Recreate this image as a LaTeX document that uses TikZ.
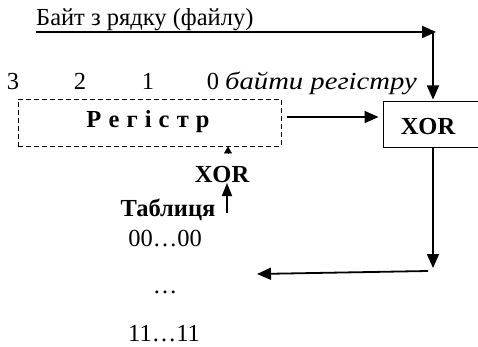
\documentclass[tikz,border=0pt]{standalone}
\usepackage{fontspec}
\setmainfont{Liberation Serif}
\usetikzlibrary{arrows.meta}

\tikzset{
  txt/.style={inner sep=0pt, font=\fontsize{24.5}{28}\selectfont},
  boldtxt/.style={inner sep=0pt, font=\fontsize{24.5}{28}\selectfont\bfseries},
  flow/.style={line width=1.8pt, -{Triangle[length=14pt,width=12pt]}},
  regbox/.style={draw, dashed, dash pattern=on 5pt off 3pt, line width=0.9pt,
    minimum width=263pt, minimum height=47pt, inner sep=0pt},
  xorbox/.style={draw, line width=1pt, inner sep=0pt, minimum width=97pt,
    minimum height=46pt}
}
\newcommand{\gapsp}{\hspace{1pt} }

\begin{document}
\begin{tikzpicture}[x=1pt, y=-1pt]
  \useasboundingbox (0,0) rectangle (478,347);
  \clip (0,0) rectangle (478,347);

  % input byte, underlined, running to the right
  \node[txt, anchor=base west] (title) at (36,26) {Байт з рядку (файлу)};
  \coordinate (ustart) at (36,32);
  \coordinate (uend) at (436,32);
  \coordinate (drop) at (433,33);

  % byte numbers of the register
  \node[txt, anchor=base] (b3) at (13,90) {3};
  \node[txt, anchor=base] (b2) at (80,90) {2};
  \node[txt, anchor=base] (b1) at (148,90) {1};
  \node[txt, anchor=base] (b0) at (213,90) {0};
  \node[txt, anchor=base west] (blabel) at (225,90)
    {\scalebox{1.17}[1]{\itshape байти регістру}};

  % register
  \node[regbox] (reg) at (149.5,122.5) {};
  \node[boldtxt] (regtxt) at (148,122)
    {Р\gapsp е\gapsp г\gapsp і\gapsp с\gapsp т\gapsp р};

  % XOR block
  \node[xorbox] (xor) at (431.5,125) {};
  \node[boldtxt] (xortxt) at (428,127) {XOR};

  % table lookup
  \node[boldtxt] (xor2) at (222,175) {XOR};
  \node[boldtxt] (tab) at (168,210) {Таблиця};
  \node[txt] (t0) at (165,239) {00…00};
  \node[txt] (tdots) at (165,292) {…};
  \node[txt, anchor=base] (t1) at (164,341) {11…11};

  \coordinate (lvl) at (0,117);
  \coordinate (upfrom) at (227,213);
  \coordinate (upto) at (227,183);
  \coordinate (tick) at (228,153);
  \coordinate (back) at (433,268);
  \coordinate (leftfrom) at (428,271);
  \coordinate (leftto) at (257,274);

  % connectors
  \draw[flow] (ustart) -- (uend);
  \draw[flow, shorten >=2pt] (drop) -- (xor.north -| drop);
  \draw[flow, shorten <=6pt, shorten >=4pt] (reg.east |- lvl) -- (xor.west |- lvl);
  \draw[flow] (xor.south -| drop) -- (back);
  \draw[flow] (leftfrom) -- (leftto);
  \draw[line width=1.6pt, -{Triangle[length=13pt,width=10pt]}] (upfrom) -- (upto);
  \draw[line width=0.5pt, -{Triangle[length=7pt,width=8pt]}] (tick) -- (reg.south -| tick);
\end{tikzpicture}
\end{document}
